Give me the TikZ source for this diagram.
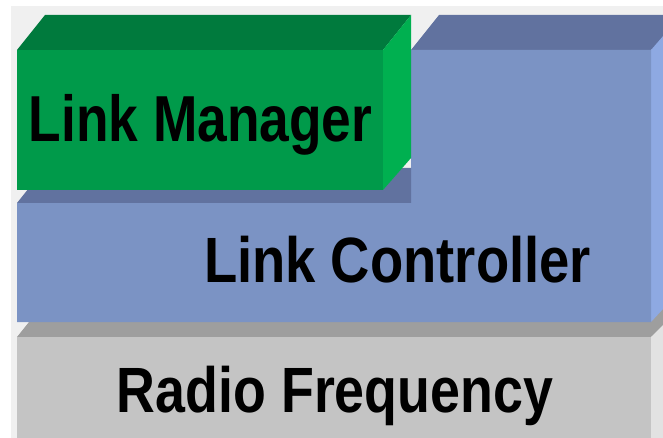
\documentclass[tikz,border=0pt]{standalone}
\usepackage{fontspec}
\setmainfont{Liberation Sans}
\definecolor{bgstrip}{HTML}{F0F0F0}
\definecolor{gfront}{HTML}{009A4A}
\definecolor{gtop}{HTML}{007A3D}
\definecolor{gside}{HTML}{00B050}
\definecolor{bfront}{HTML}{7B93C4}
\definecolor{btop}{HTML}{61729F}
\definecolor{bside}{HTML}{8EA9E2}
\definecolor{rfront}{HTML}{C4C4C4}
\definecolor{rtop}{HTML}{9E9E9E}
\definecolor{rside}{HTML}{E2E2E2}
\tikzset{
  label text/.style={inner sep=0pt, anchor=base, font=\fontsize{64}{70}\selectfont\bfseries, text=black}
}
\begin{document}
\begin{tikzpicture}[x=1pt,y=-1pt]
\useasboundingbox (0,0) rectangle (663,438);
\fill[white] (0,0) rectangle (663,438);
\clip (0,0) rectangle (663,438);
\fill[bgstrip] (11,6) rectangle (663,438);
% Radio Frequency block
\fill[rtop] (17,337) -- (45,302) -- (700,302) -- (651,337) -- cycle;
\fill[rside] (651,337) -- (700,288) -- (700,438) -- (651,438) -- cycle;
\fill[rfront] (17,337) rectangle (651,438);
% Link Controller block
\fill[btop] (411,50) -- (439,15) -- (700,15) -- (651,50) -- cycle;
\fill[bside] (651,50) -- (690,5) -- (690,280) -- (651,322) -- cycle;
\fill[bfront] (411,50) -- (651,50) -- (651,322) -- (17,322) -- (17,203) -- (411,203) -- cycle;
\fill[btop] (17,203) -- (45,168) -- (411,168) -- (411,203) -- cycle;
% Link Manager block
\fill[gtop] (17,50) -- (45,15) -- (411,15) -- (383,50) -- cycle;
\fill[gside] (383,50) -- (411,15) -- (411,158) -- (383,190) -- cycle;
\fill[gfront] (17,50) rectangle (383,190);
% labels
\node[label text] (lm) at (200.5,142) {\fontsize{65}{70}\selectfont\scalebox{0.82}[1]{Link Manager}};
\node[label text] (lc) at (397.5,282) {\scalebox{0.85}[1]{Link Controller}};
\node[label text] (rf) at (335,412) {\scalebox{0.84}[1]{Radio Frequency}};
\end{tikzpicture}
\end{document}
